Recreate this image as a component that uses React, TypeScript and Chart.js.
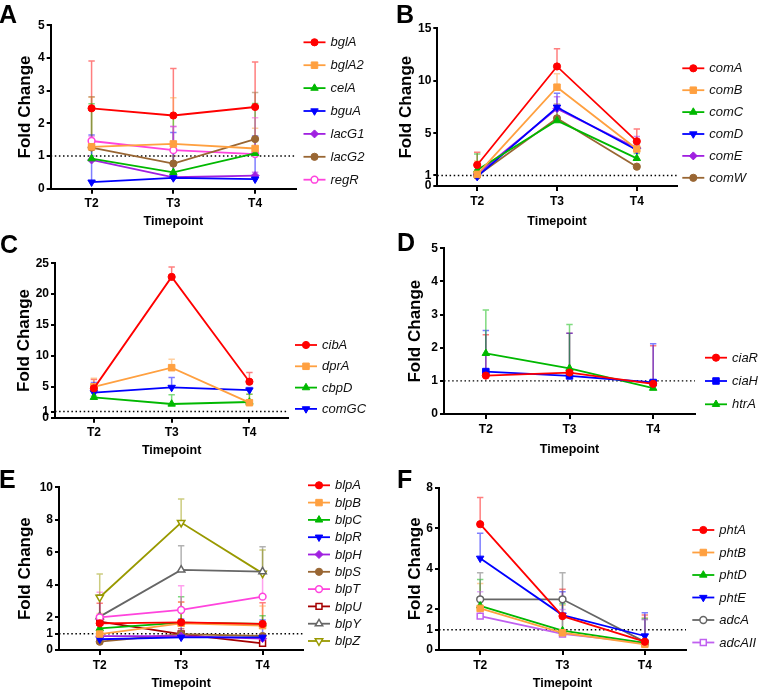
import React, { useEffect, useRef } from 'react';
import { Chart, registerables } from 'chart.js';
import { drawPoint } from 'chart.js/helpers';

Chart.register(...registerables);

const FONT = "'Liberation Sans', Arial, Helvetica, sans-serif";
Chart.defaults.font.family = FONT;
Chart.defaults.color = '#000';

const timepoints = ['T2', 'T3', 'T4'];

// ---------- Panel A ----------
const bglA = [2.46, 2.24, 2.5];
const bglAHi = [3.91, 3.68, 3.88];
const bglA2 = [1.28, 1.37, 1.23];
const bglA2Hi = [2.8, 2.78, 1.85];
const celA = [0.92, 0.5, 1.08];
const celAHi = [2.6, 2.24, 2.61];
const bguA = [0.2, 0.33, 0.29];
const bguAHi = [1.64, 1.72, 1.61];
const lacG1 = [0.88, 0.35, 0.4];
const lacG1Hi = [1.0, 1.9, 0.5];
const lacG2 = [1.26, 0.77, 1.52];
const lacG2Hi = [2.81, 1.0, 2.94];
const regR = [1.46, 1.18, 1.06];
const regRHi = [1.6, 1.9, 2.17];
const ticksA = [0, 1, 2, 3, 4, 5];

// ---------- Panel B ----------
const comA = [2.0, 11.37, 4.25];
const comAHi = [3.2, 13.05, 5.43];
const comB = [1.11, 9.4, 3.52];
const comBHi = [2.38, 10.67, 4.4];
const comC = [1.52, 6.22, 2.63];
const comCHi = [3.05, 7.2, 3.1];
const comD = [0.89, 7.49, 3.43];
const comDHi = [1.3, 8.83, 3.9];
const comE = [1.14, 7.36, 3.59];
const comEHi = [1.5, 8.5, 4.7];
const comW = [0.98, 6.44, 1.84];
const comWHi = [1.2, 7.8, 2.0];
const ticksB = [0, 1, 5, 10, 15];

// ---------- Panel C ----------
const cibA = [4.75, 22.8, 5.83];
const cibAHi = [6.2, 24.4, 7.3];
const dprA = [5.0, 8.1, 2.43];
const dprAHi = [6.4, 9.45, 3.8];
const cbpD = [3.3, 2.22, 2.54];
const cbpDHi = [3.5, 3.73, 3.8];
const comGC = [4.05, 4.9, 4.48];
const comGCHi = [5.7, 6.5, 4.9];
const ticksC = [0, 1, 5, 10, 15, 20, 25];

// ---------- Panel D ----------
const ciaR = [1.16, 1.25, 0.91];
const ciaRHi = [2.39, 2.44, 2.06];
const ciaH = [1.28, 1.15, 0.95];
const ciaHHi = [2.52, 2.44, 2.12];
const htrA = [1.83, 1.38, 0.78];
const htrAHi = [3.14, 2.7, 0.85];
const ticksD = [0, 1, 2, 3, 4, 5];

// ---------- Panel E ----------
const blpA = [1.64, 1.7, 1.6];
const blpAHi = [2.87, 2.95, 2.9];
const blpB = [0.98, 1.64, 1.5];
const blpBHi = [2.25, 2.93, 2.7];
const blpC = [1.33, 1.68, 1.6];
const blpCHi = [1.8, 3.28, 2.1];
const blpR = [0.66, 0.78, 0.78];
const blpRHi = [1.0, 1.9, 1.84];
const blpH = [0.85, 0.85, 0.7];
const blpHHi = [1.0, 1.0, 0.9];
const blpS = [0.51, 0.98, 0.86];
const blpSHi = [0.6, 1.1, 1.0];
const blpT = [2.01, 2.46, 3.28];
const blpTHi = [3.55, 3.95, 4.7];
const blpU = [1.74, 0.98, 0.41];
const blpUHi = [3.3, 1.3, 0.6];
const blpY = [2.05, 4.92, 4.82];
const blpYHi = [3.4, 6.41, 6.35];
const blpZ = [3.24, 7.83, 4.71];
const blpZHi = [4.67, 9.28, 6.15];
const ticksE = [0, 1, 2, 4, 6, 8, 10];

// ---------- Panel F ----------
const phtA = [6.2, 1.67, 0.41];
const phtAHi = [7.52, 2.99, 1.72];
const phtB = [2.05, 0.85, 0.28];
const phtBHi = [3.28, 2.2, 1.6];
const phtD = [2.18, 0.95, 0.35];
const phtDHi = [3.48, 2.28, 1.55];
const phtE = [4.52, 1.72, 0.69];
const phtEHi = [5.75, 2.87, 1.84];
const adcA = [2.5, 2.5, 0.4];
const adcAHi = [3.81, 3.81, 1.5];
const adcAII = [1.67, 0.79, 0.35];
const adcAIIHi = [2.87, 2.0, 1.5];
const ticksF = [0, 1, 2, 4, 6, 8];

// ---------- styles ----------
const RED = '#FF0000';
const ORANGE = '#FFA040';
const GREEN = '#00B800';
const BLUE = '#0000FF';
const PURPLE = '#A020E0';
const BROWN = '#996633';
const PINK = '#FF44DD';
const DARKRED = '#A50000';
const GRAY = '#666666';
const OLIVE = '#999900';
const LILAC = '#C060F0';

type Shape = 'circle' | 'square' | 'up' | 'down' | 'diamond';
interface Series {
  label: string;
  data: number[];
  hi: number[];
  color: string;
  shape: Shape;
  open?: boolean;
}
interface PanelSpec {
  letter: string;
  letterX: number;
  letterY: number;
  rect: [number, number, number, number];
  axisX: number;
  axisEnd: number;
  top: number;
  bottom: number;
  yMax: number;
  yTicks: number[];
  yTitleX: number;
  legendX: number;
  legendY0: number;
  legendStep: number;
  series: Series[];
}

const S = (label: string, data: number[], hi: number[], color: string, shape: Shape, open = false): Series => ({
  label, data, hi, color, shape, open,
});

const panels: PanelSpec[] = [
  {
    letter: 'A', letterX: 0, letterY: 5, rect: [0, 0, 380, 229],
    axisX: 50.7, axisEnd: 296, top: 25.3, bottom: 188.7, yMax: 5, yTicks: ticksA, yTitleX: 25.5,
    legendX: 314.5, legendY0: 42.3, legendStep: 22.9,
    series: [
      S('bglA', bglA, bglAHi, RED, 'circle'),
      S('bglA2', bglA2, bglA2Hi, ORANGE, 'square'),
      S('celA', celA, celAHi, GREEN, 'up'),
      S('bguA', bguA, bguAHi, BLUE, 'down'),
      S('lacG1', lacG1, lacG1Hi, PURPLE, 'diamond'),
      S('lacG2', lacG2, lacG2Hi, BROWN, 'circle'),
      S('regR', regR, regRHi, PINK, 'circle', true),
    ],
  },
  {
    letter: 'B', letterX: 397, letterY: 5, rect: [380, 0, 381, 229],
    axisX: 437.3, axisEnd: 676.7, top: 28.3, bottom: 186, yMax: 15, yTicks: ticksB, yTitleX: 406.5,
    legendX: 693.3, legendY0: 68.3, legendStep: 21.9,
    series: [
      S('comA', comA, comAHi, RED, 'circle'),
      S('comB', comB, comBHi, ORANGE, 'square'),
      S('comC', comC, comCHi, GREEN, 'up'),
      S('comD', comD, comDHi, BLUE, 'down'),
      S('comE', comE, comEHi, PURPLE, 'diamond'),
      S('comW', comW, comWHi, BROWN, 'circle'),
    ],
  },
  {
    letter: 'C', letterX: 1, letterY: 235, rect: [0, 226, 380, 232],
    axisX: 55, axisEnd: 288.3, top: 263.3, bottom: 417.7, yMax: 25, yTicks: ticksC, yTitleX: 24.5,
    legendX: 306, legendY0: 345, legendStep: 21.3,
    series: [
      S('cibA', cibA, cibAHi, RED, 'circle'),
      S('dprA', dprA, dprAHi, ORANGE, 'square'),
      S('cbpD', cbpD, cbpDHi, GREEN, 'up'),
      S('comGC', comGC, comGCHi, BLUE, 'down'),
    ],
  },
  {
    letter: 'D', letterX: 398, letterY: 233.3, rect: [380, 226, 381, 231],
    axisX: 444, axisEnd: 695, top: 248.3, bottom: 414, yMax: 5, yTicks: ticksD, yTitleX: 415,
    legendX: 716, legendY0: 357.7, legendStep: 23.3,
    series: [
      S('ciaR', ciaR, ciaRHi, RED, 'circle'),
      S('ciaH', ciaH, ciaHHi, BLUE, 'square'),
      S('htrA', htrA, htrAHi, GREEN, 'up'),
    ],
  },
  {
    letter: 'E', letterX: 0, letterY: 470.7, rect: [0, 458, 380, 233],
    axisX: 59, axisEnd: 303.3, top: 487.3, bottom: 650, yMax: 10, yTicks: ticksE, yTitleX: 25,
    legendX: 319, legendY0: 485.3, legendStep: 17.3,
    series: [
      S('blpA', blpA, blpAHi, RED, 'circle'),
      S('blpB', blpB, blpBHi, ORANGE, 'square'),
      S('blpC', blpC, blpCHi, GREEN, 'up'),
      S('blpR', blpR, blpRHi, BLUE, 'down'),
      S('blpH', blpH, blpHHi, PURPLE, 'diamond'),
      S('blpS', blpS, blpSHi, BROWN, 'circle'),
      S('blpT', blpT, blpTHi, PINK, 'circle', true),
      S('blpU', blpU, blpUHi, DARKRED, 'square', true),
      S('blpY', blpY, blpYHi, GRAY, 'up', true),
      S('blpZ', blpZ, blpZHi, OLIVE, 'down', true),
    ],
  },
  {
    letter: 'F', letterX: 398, letterY: 470.7, rect: [380, 458, 381, 233],
    axisX: 439, axisEnd: 686, top: 487.7, bottom: 650, yMax: 8, yTicks: ticksF, yTitleX: 415,
    legendX: 703.3, legendY0: 530, legendStep: 22.5,
    series: [
      S('phtA', phtA, phtAHi, RED, 'circle'),
      S('phtB', phtB, phtBHi, ORANGE, 'square'),
      S('phtD', phtD, phtDHi, GREEN, 'up'),
      S('phtE', phtE, phtEHi, BLUE, 'down'),
      S('adcA', adcA, adcAHi, GRAY, 'circle', true),
      S('adcAII', adcAII, adcAIIHi, LILAC, 'square', true),
    ],
  },
];

function markerOf(shape: Shape, open?: boolean) {
  switch (shape) {
    case 'square':
      return { pointStyle: 'rect', radius: open ? 4.2 : 4.6, rotation: 0 };
    case 'up':
      return { pointStyle: 'triangle', radius: 4.3, rotation: 0 };
    case 'down':
      return { pointStyle: 'triangle', radius: 4.3, rotation: 180 };
    case 'diamond':
      return { pointStyle: 'rectRot', radius: 4, rotation: 0 };
    default:
      return { pointStyle: 'circle', radius: open ? 3.4 : 3.6, rotation: 0 };
  }
}

function rgba(hex: string, a: number) {
  const n = parseInt(hex.slice(1), 16);
  return `rgba(${(n >> 16) & 255},${(n >> 8) & 255},${n & 255},${a})`;
}

function Panel({ spec }: { spec: PanelSpec }) {
  const ref = useRef<HTMLCanvasElement>(null);
  const [cx, cy, cw, ch] = spec.rect;

  useEffect(() => {
    const extras = {
      id: 'panelExtras',
      beforeDatasetsDraw(chart: any) {
        const { ctx, chartArea, scales } = chart;
        const ys = scales.y;
        ctx.save();
        const y1 = ys.getPixelForValue(1);
        ctx.strokeStyle = '#000';
        ctx.lineWidth = 1.4;
        ctx.setLineDash([1.5, 2.6]);
        ctx.beginPath();
        ctx.moveTo(chartArea.left, y1);
        ctx.lineTo(chartArea.right, y1);
        ctx.stroke();
        ctx.setLineDash([]);
        spec.series.forEach((s, i) => {
          const meta = chart.getDatasetMeta(i);
          ctx.strokeStyle = rgba(s.color, 0.5);
          ctx.lineWidth = 1.5;
          meta.data.forEach((pt: any, j: number) => {
            const yt = ys.getPixelForValue(s.hi[j]);
            ctx.beginPath();
            ctx.moveTo(pt.x, pt.y);
            ctx.lineTo(pt.x, yt);
            ctx.moveTo(pt.x - 3.2, yt);
            ctx.lineTo(pt.x + 3.2, yt);
            ctx.stroke();
          });
        });
        ctx.restore();
      },
      afterDraw(chart: any) {
        const { ctx } = chart;
        ctx.save();
        spec.series.forEach((s, k) => {
          const x = spec.legendX - cx;
          const y = spec.legendY0 + k * spec.legendStep - cy;
          ctx.strokeStyle = s.color;
          ctx.lineWidth = 1.8;
          ctx.beginPath();
          ctx.moveTo(x - 11, y);
          ctx.lineTo(x + 11, y);
          ctx.stroke();
          const m = markerOf(s.shape, s.open);
          ctx.fillStyle = s.open ? '#fff' : s.color;
          ctx.strokeStyle = s.color;
          ctx.lineWidth = s.open ? 1.5 : 1;
          drawPoint(ctx, { pointStyle: m.pointStyle as any, rotation: m.rotation, radius: m.radius, borderWidth: ctx.lineWidth } as any, x, y);
          ctx.fillStyle = '#111';
          ctx.font = `italic 13px ${FONT}`;
          ctx.textAlign = 'left';
          ctx.textBaseline = 'middle';
          ctx.fillText(s.label, x + 16, y + 0.5);
        });
        ctx.restore();
      },
    };

    const datasets = spec.series.map((s) => {
      const m = markerOf(s.shape, s.open);
      return {
        label: s.label,
        data: s.data,
        borderColor: s.color,
        backgroundColor: s.color,
        borderWidth: 1.8,
        tension: 0,
        fill: false,
        pointStyle: m.pointStyle,
        pointRadius: m.radius,
        pointRotation: m.rotation,
        pointBackgroundColor: s.open ? '#fff' : s.color,
        pointBorderColor: s.color,
        pointBorderWidth: s.open ? 1.5 : 1,
      };
    });

    const tickFont = { size: 12, weight: 'bold' as const, family: FONT };
    const chart = new Chart(ref.current as HTMLCanvasElement, {
      type: 'line',
      data: { labels: timepoints, datasets: datasets as any },
      options: {
        responsive: false,
        animation: false,
        events: [],
        layout: {
          padding: { left: 0, top: spec.top - cy, right: cx + cw - spec.axisEnd, bottom: 0 },
        },
        plugins: {
          legend: { display: false },
          tooltip: { enabled: false },
        },
        scales: {
          x: {
            type: 'category',
            offset: true,
            grid: { display: true, drawOnChartArea: false, drawTicks: true, tickLength: 5, color: '#000', lineWidth: 2 },
            border: { display: true, color: '#000', width: 2 },
            ticks: { color: '#000', font: tickFont, padding: 3, maxRotation: 0 },
            title: {
              display: true,
              text: 'Timepoint',
              color: '#000',
              font: { size: 12.5, weight: 'bold', family: FONT },
              padding: { top: 0, bottom: 0 },
            },
            afterFit: (s: any) => {
              s.height = cy + ch - spec.bottom;
            },
          },
          y: {
            type: 'linear',
            min: 0,
            max: spec.yMax,
            afterBuildTicks: (s: any) => {
              s.ticks = spec.yTicks.map((v) => ({ value: v }));
            },
            grid: { display: true, drawOnChartArea: false, drawTicks: true, tickLength: 4, color: '#000', lineWidth: 2 },
            border: { display: true, color: '#000', width: 2 },
            ticks: { color: '#000', font: tickFont, padding: 2, autoSkip: false },
            title: {
              display: true,
              text: 'Fold Change',
              color: '#000',
              font: { size: 17, weight: 'bold', family: FONT },
              padding: { top: spec.yTitleX - cx - 10.2, bottom: 0 },
            },
            afterFit: (s: any) => {
              s.width = spec.axisX - cx;
            },
          },
        },
      } as any,
      plugins: [extras as any],
    });
    return () => chart.destroy();
  }, []);

  return (
    <canvas
      ref={ref}
      width={cw}
      height={ch}
      style={{ position: 'absolute', left: cx, top: cy, width: cw, height: ch }}
    />
  );
}

export default function App() {
  return (
    <div
      style={{
        position: 'absolute',
        left: 0,
        top: 0,
        width: 761,
        height: 691,
        background: '#fff',
        overflow: 'hidden',
        fontFamily: FONT,
      }}
    >
      {panels.map((p) => (
        <Panel key={p.letter} spec={p} />
      ))}
      {panels.map((p) => (
        <div
          key={'L' + p.letter}
          style={{
            position: 'absolute',
            left: p.letterX - 1,
            top: p.letterY - 3.3,
            fontSize: 25,
            lineHeight: '25px',
            fontWeight: 'bold',
            color: '#000',
            fontFamily: FONT,
            zIndex: 2,
          }}
        >
          {p.letter}
        </div>
      ))}
    </div>
  );
}
